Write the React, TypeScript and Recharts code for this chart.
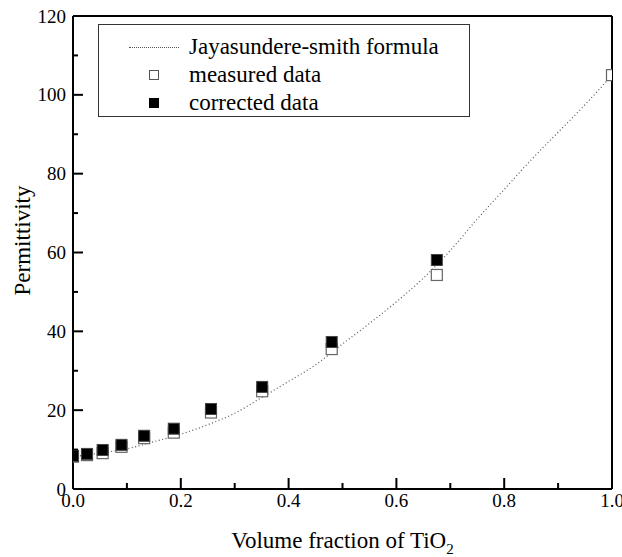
import { ComposedChart, Line, Scatter, XAxis, YAxis, ReferenceLine, Legend } from "recharts"

// Jayasundere-Smith curve
const curveX = [0, 0.05, 0.1, 0.15, 0.2, 0.25, 0.3, 0.35, 0.4, 0.45, 0.5, 0.55, 0.6, 0.65, 0.7, 0.75, 0.8, 0.85, 0.9, 0.95, 1.0]
const curveY = [8.2, 9.1, 10.2, 12.0, 13.9, 16.3, 19.2, 23.2, 27.3, 31.5, 36.8, 42.0, 47.5, 53.5, 60.5, 68.5, 76.0, 83.5, 90.5, 97.5, 105]

const fraction = [0, 0.026, 0.055, 0.09, 0.132, 0.187, 0.256, 0.351, 0.48, 0.675, 1.0]
const measured = [8.2, 8.6, 9.1, 10.7, 12.9, 14.3, 19.4, 24.8, 35.5, 54.3, 105]
const corrected = [8.4, 8.9, 9.9, 11.2, 13.5, 15.3, 20.3, 25.9, 37.3, 58.1]

const xTicks = [0, 0.1, 0.2, 0.3, 0.4, 0.5, 0.6, 0.7, 0.8, 0.9, 1.0]
const yTicks = [0, 10, 20, 30, 40, 50, 60, 70, 80, 90, 100, 110, 120]

const curveData = curveX.map((x, i) => ({ x, eps: curveY[i] }))
const measuredData = measured.map((v, i) => ({ x: fraction[i], eps: v }))
const correctedData = corrected.map((v, i) => ({ x: fraction[i], eps: v }))

const font = "'Liberation Serif', 'Times New Roman', serif"

const XTick = (props: any) => {
    const { x, y, payload } = props
    const major = Math.round(payload.value * 10) % 2 === 0
    return (
        <g>
            <line x1={x} x2={x} y1={y} y2={y - (major ? 11 : 6)} stroke="#000" strokeWidth={2} />
            {major && (
                <text x={x} y={y + 18} textAnchor="middle" fontFamily={font} fontSize={19} fill="#000">
                    {payload.value.toFixed(1)}
                </text>
            )}
        </g>
    )
}

const YTick = (props: any) => {
    const { x, y, payload } = props
    const major = payload.value % 20 === 0
    return (
        <g>
            <line x1={x} x2={x + (major ? 10 : 5)} y1={y} y2={y} stroke="#000" strokeWidth={2} />
            {major && (
                <text x={x - 7} y={y + 6.5} textAnchor="end" fontFamily={font} fontSize={19} fill="#000">
                    {payload.value}
                </text>
            )}
        </g>
    )
}

const OpenSquare = (p: any) => (
    <rect x={p.cx - 5.5} y={p.cy - 5.5} width={11} height={11} fill="#fff" stroke="#666" strokeWidth={1.2} />
)

const FilledSquare = (p: any) => (
    <rect x={p.cx - 5.5} y={p.cy - 5.5} width={11} height={11} fill="#000" stroke="#444" strokeWidth={1} />
)

const LegendBox = () => {
    const row = { height: 28, display: "flex", alignItems: "center" } as const
    const sym = { width: 50, marginLeft: 30, marginRight: 10, display: "flex", justifyContent: "center" } as const
    return (
        <div style={{ width: 372, height: 93, boxSizing: "border-box", border: "1.5px solid #333", paddingTop: 8, fontFamily: font, fontSize: 23, color: "#000", background: "#fff" }}>
            <div style={row}>
                <div style={sym}>
                    <div style={{ width: 50, borderTop: "1.2px dotted #555" }} />
                </div>
                <span>Jayasundere-smith formula</span>
            </div>
            <div style={row}>
                <div style={sym}>
                    <div style={{ width: 10, height: 10, boxSizing: "border-box", border: "1px solid #555", background: "#fff" }} />
                </div>
                <span>measured data</span>
            </div>
            <div style={row}>
                <div style={sym}>
                    <div style={{ width: 10, height: 10, background: "#000" }} />
                </div>
                <span>corrected data</span>
            </div>
        </div>
    )
}

const App = () => {
    return (
        <div style={{ position: "absolute", left: 0, top: 0, background: "#fff" }}>
            <ComposedChart width={622} height={557} margin={{ top: 16, right: 10, left: 23, bottom: 38 }}>
                <XAxis
                    dataKey="x"
                    type="number"
                    domain={[0, 1]}
                    ticks={xTicks}
                    allowDataOverflow
                    height={30}
                    tickSize={0}
                    tickMargin={0}
                    tickLine={false}
                    tick={<XTick />}
                    axisLine={{ stroke: "#000", strokeWidth: 2 }}
                    label={({ viewBox }: any) => (
                        <text x={viewBox.x + viewBox.width / 2} y={viewBox.y + 59} textAnchor="middle" fontFamily={font} fontSize={23} fill="#000">
                            Volume fraction of TiO<tspan dy={6} fontSize={15}>2</tspan>
                        </text>
                    )}
                />
                <YAxis
                    type="number"
                    domain={[0, 120]}
                    ticks={yTicks}
                    width={50}
                    tickSize={0}
                    tickMargin={0}
                    tickLine={false}
                    tick={<YTick />}
                    axisLine={{ stroke: "#000", strokeWidth: 2 }}
                    label={({ viewBox }: any) => (
                        <text x={30} y={viewBox.y + viewBox.height / 2 - 12} transform={`rotate(-90, 30, ${viewBox.y + viewBox.height / 2 - 12})`} textAnchor="middle" fontFamily={font} fontSize={23} fill="#000">
                            Permittivity
                        </text>
                    )}
                />
                <ReferenceLine y={120} stroke="#000" strokeWidth={2} />
                <ReferenceLine x={1} stroke="#000" strokeWidth={2} />
                <Line data={curveData} dataKey="eps" type="monotone" stroke="#555" strokeWidth={1.2} strokeDasharray="1 2.5" dot={false} isAnimationActive={false} />
                <Scatter data={measuredData} dataKey="eps" shape={<OpenSquare />} isAnimationActive={false} />
                <Scatter data={correctedData} dataKey="eps" shape={<FilledSquare />} isAnimationActive={false} />
                <Legend
                    layout="vertical"
                    align="center"
                    verticalAlign="middle"
                    content={<LegendBox />}
                    wrapperStyle={{ position: "absolute", left: 98, top: 24, width: 372 }}
                />
            </ComposedChart>
        </div>
    )
}

export default App
